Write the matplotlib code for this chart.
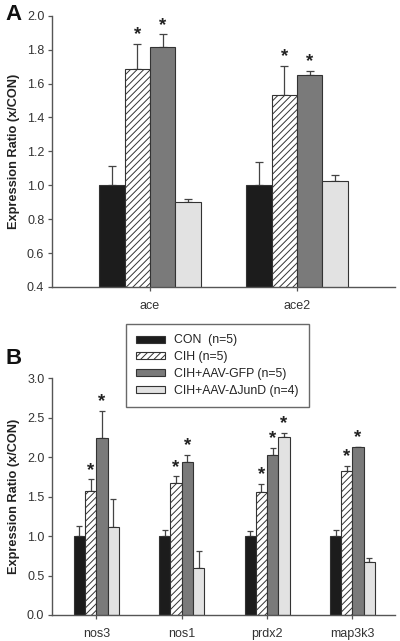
import matplotlib
matplotlib.use("Agg")
import matplotlib.pyplot as plt
import numpy as np

plt.rcParams['font.family'] = ['Liberation Sans', 'DejaVu Sans']
plt.rcParams['hatch.linewidth'] = 0.7
plt.rcParams['hatch.color'] = '#333333'

series = ['CON  (n=5)', 'CIH (n=5)', 'CIH+AAV-GFP (n=5)', 'CIH+AAV-\u0394JunD (n=4)']

genes_a = ['ace', 'ace2']
a_con = [1.0, 1.0]
a_cih = [1.688, 1.535]
a_gfp = [1.815, 1.649]
a_jund = [0.901, 1.024]
a_con_err = [0.111, 0.138]
a_cih_err = [0.145, 0.170]
a_gfp_err = [0.075, 0.025]
a_jund_err = [0.020, 0.038]
a_cih_star = [True, True]
a_gfp_star = [True, True]
a_jund_star = [False, False]

genes_b = ['nos3', 'nos1', 'prdx2', 'map3k3']
b_con = [1.0, 1.0, 1.0, 1.0]
b_cih = [1.571, 1.672, 1.563, 1.819]
b_gfp = [2.244, 1.933, 2.034, 2.126]
b_jund = [1.113, 0.592, 2.256, 0.668]
b_con_err = [0.134, 0.080, 0.067, 0.080]
b_cih_err = [0.149, 0.084, 0.097, 0.071]
b_gfp_err = [0.344, 0.092, 0.084, 0.008]
b_jund_err = [0.357, 0.223, 0.051, 0.055]
b_cih_star = [True, True, True, True]
b_gfp_star = [True, True, True, True]
b_jund_star = [False, False, True, False]

face = ['#1c1c1c', 'white', '#7a7a7a', '#e2e2e2']
hatches = [None, '/////', None, None]
spine_c = '#555555'

fig = plt.figure(figsize=(4.0, 6.41), dpi=100)


def panel(ax, genes, means, errs, stars, width, capsize, ylim, yticks, xlim):
    x = np.arange(len(genes))
    handles = []
    for i in range(4):
        pos = x + (i - 1.5) * width
        b = ax.bar(pos, means[i], width=width, color=face[i], edgecolor='#333333',
                   linewidth=0.8, hatch=hatches[i], zorder=2, label=series[i])
        handles.append(b)
        ax.errorbar(pos, means[i], yerr=[np.zeros(len(genes)), errs[i]], fmt='none',
                    ecolor='#444444', elinewidth=0.9, capsize=capsize, capthick=0.9, zorder=1)
        for j in range(len(genes)):
            if stars[i][j]:
                ax.annotate('*', (pos[j], means[i][j] + errs[i][j]), xytext=(0, 0.5),
                            textcoords='offset points', ha='center', va='bottom',
                            fontsize=13.5, fontweight='bold', color='#222222')
    ax.set_xlim(*xlim)
    ax.set_ylim(*ylim)
    ax.set_yticks(yticks)
    ax.set_yticklabels(['%.1f' % v for v in yticks])
    ax.set_xticks(x)
    ax.set_xticklabels(genes)
    for s in ['top', 'right']:
        ax.spines[s].set_visible(False)
    for s in ['left', 'bottom']:
        ax.spines[s].set_color(spine_c)
        ax.spines[s].set_linewidth(1.0)
    ax.tick_params(axis='both', colors=spine_c, labelcolor='#333333', labelsize=9,
                   length=3, width=0.9)
    ax.tick_params(axis='x', pad=6.5)
    ax.tick_params(axis='y', pad=2.5)
    ax.set_ylabel('Expression Ratio (x/CON)', fontsize=9.2, fontweight='bold', color='#222222',
                  labelpad=5)
    return handles


axA = fig.add_axes([0.13, 0.5523, 0.8575, 0.4232])
panel(axA, genes_a,
      [a_con, a_cih, a_gfp, a_jund],
      [a_con_err, a_cih_err, a_gfp_err, a_jund_err],
      [[False, False], a_cih_star, a_gfp_star, a_jund_star],
      0.173, 3.0, (0.4, 2.0), [0.4, 0.6, 0.8, 1.0, 1.2, 1.4, 1.6, 1.8, 2.0], (-0.667, 1.667))

axB = fig.add_axes([0.13, 0.0406, 0.8575, 0.3692])
hb = panel(axB, genes_b,
           [b_con, b_cih, b_gfp, b_jund],
           [b_con_err, b_cih_err, b_gfp_err, b_jund_err],
           [[False] * 4, b_cih_star, b_gfp_star, b_jund_star],
           0.132, 2.2, (0.0, 3.0), [0.0, 0.5, 1.0, 1.5, 2.0, 2.5, 3.0], (-0.518, 3.498))

leg = fig.legend(handles=hb, labels=series, loc='upper left', bbox_to_anchor=(0.315, 0.4945),
                 fontsize=8.8, frameon=True, fancybox=False, edgecolor='#444444',
                 handlelength=2.35, handleheight=0.5, handletextpad=0.7, labelspacing=0.4,
                 borderpad=0.85, borderaxespad=0)
leg.get_frame().set_linewidth(1.0)
for t in leg.get_texts():
    t.set_color('#222222')

fig.text(0.033, 0.978, 'A', fontsize=16, fontweight='bold', ha='center', va='center', color='#111111')
fig.text(0.034, 0.441, 'B', fontsize=16, fontweight='bold', ha='center', va='center', color='#111111')

fig.savefig('out.png', dpi=100)
